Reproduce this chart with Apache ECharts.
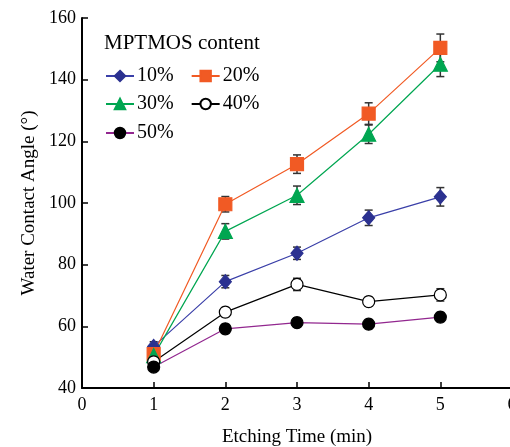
<!DOCTYPE html>
<html>
<head>
<meta charset="utf-8">
<script src="https://cdn.jsdelivr.net/npm/echarts@6/dist/echarts.min.js"></script>
<style>
  html, body { margin: 0; padding: 0; background: #fff; }
  #chart { width: 510px; height: 447px; }
</style>
</head>
<body>
<div id="chart"></div>
<script>
'use strict';
var times = [1, 2, 3, 4, 5];
var names = ['10%', '20%', '30%', '40%', '50%'];
var val10 = [53.5, 74.5, 83.7, 95.2, 102];
var val20 = [51, 99.6, 112.6, 129, 150.3];
var val30 = [50.5, 90.8, 102.5, 122.3, 145];
var val40 = [48.5, 64.6, 73.6, 68, 70.2];
var val50 = [46.8, 59.2, 61.2, 60.7, 63];
var err10 = [1.5, 2, 2, 2.5, 3];
var err20 = [1.5, 2.5, 3, 3.5, 4.5];
var err30 = [1.5, 2.5, 3, 3, 4];
var err40 = [1, 1.5, 2, 1.5, 2];
var err50 = [1, 1.5, 1.5, 1.5, 1.5];

var chart = echarts.init(document.getElementById('chart'));
var FONT = '"Liberation Serif", "DejaVu Serif", serif';

// 每条线的样式
var styles = [
  { name: '10%', vals: val10, errs: err10, symbol: 'diamond', size: [12, 14], line: '#3a3fa8', fill: '#2b3190', border: '#2b3190' },
  { name: '20%', vals: val20, errs: err20, symbol: 'rect', size: 13, line: '#f15a24', fill: '#f15a24', border: '#f15a24' },
  { name: '30%', vals: val30, errs: err30, symbol: 'triangle', size: 14, line: '#00a651', fill: '#00a651', border: '#00a651' },
  { name: '40%', vals: val40, errs: err40, symbol: 'circle', size: 12, line: '#000', fill: '#fff', border: '#000' },
  { name: '50%', vals: val50, errs: err50, symbol: 'circle', size: 12, line: '#92278f', fill: '#000', border: '#000' }
];

function pairs(vals) {
  return times.map(function (t, i) { return [t, vals[i]]; });
}

var series = [];
styles.forEach(function (s) {
  // 误差棒
  series.push({
    type: 'custom',
    name: s.name + '_err',
    z: 1,
    silent: true,
    data: times.map(function (t, i) { return [t, s.vals[i] - s.errs[i], s.vals[i] + s.errs[i]]; }),
    renderItem: function (params, api) {
      var lo = api.coord([api.value(0), api.value(1)]);
      var hi = api.coord([api.value(0), api.value(2)]);
      var cap = 4;
      var st = { stroke: '#333', lineWidth: 1.5 };
      return {
        type: 'group',
        children: [
          { type: 'line', shape: { x1: lo[0], y1: lo[1], x2: hi[0], y2: hi[1] }, style: st },
          { type: 'line', shape: { x1: lo[0] - cap, y1: lo[1], x2: lo[0] + cap, y2: lo[1] }, style: st },
          { type: 'line', shape: { x1: hi[0] - cap, y1: hi[1], x2: hi[0] + cap, y2: hi[1] }, style: st }
        ]
      };
    }
  });
  series.push({
    type: 'line',
    name: s.name,
    z: 3,
    data: pairs(s.vals),
    symbol: s.symbol,
    symbolSize: s.size,
    showAllSymbol: true,
    lineStyle: { color: s.line, width: 1.2 },
    itemStyle: { color: s.fill, borderColor: s.border, borderWidth: 1.2, opacity: 1 }
  });
});

function legendRow(data, top) {
  return {
    data: data,
    left: 105,
    top: top,
    padding: 0,
    orient: 'horizontal',
    itemWidth: 28,
    itemHeight: 13,
    itemGap: 17,
    selectedMode: false,
    textStyle: { fontFamily: FONT, fontSize: 20, color: '#000', padding: [0, 0, 0, -2] }
  };
}

var option = {
  backgroundColor: '#fff',
  animation: false,
  title: {
    text: 'MPTMOS content',
    left: 99,
    top: 28,
    textStyle: { fontFamily: FONT, fontSize: 21, fontWeight: 'normal', color: '#000' }
  },
  legend: [
    legendRow(['10%', '20%'], 66),
    legendRow(['30%', '40%'], 94),
    legendRow(['50%'], 123)
  ],
  grid: { left: 82, top: 18, width: 430, height: 370, outerBoundsMode: 'none' },
  xAxis: {
    type: 'value',
    min: 0,
    max: 6,
    interval: 1,
    name: 'Etching Time (min)',
    nameLocation: 'middle',
    nameGap: 40,
    nameTextStyle: { fontFamily: FONT, fontSize: 19, color: '#000' },
    axisLine: { onZero: false, lineStyle: { color: '#000', width: 2 } },
    axisTick: { inside: true, length: 6, lineStyle: { color: '#000', width: 1.5 } },
    axisLabel: { fontFamily: FONT, fontSize: 18, color: '#000', margin: 8 },
    splitLine: { show: false }
  },
  yAxis: {
    type: 'value',
    min: 40,
    max: 160,
    interval: 20,
    name: 'Water Contact Angle (°)',
    nameLocation: 'middle',
    nameGap: 43,
    nameTextStyle: { fontFamily: FONT, fontSize: 19, color: '#000' },
    axisLine: { show: true, onZero: false, lineStyle: { color: '#000', width: 2 } },
    axisTick: { show: true, inside: true, length: 6, lineStyle: { color: '#000', width: 1.5 } },
    axisLabel: { fontFamily: FONT, fontSize: 18, color: '#000', margin: 6 },
    splitLine: { show: false }
  },
  series: series
};

chart.setOption(option);
</script>
</body>
</html>
